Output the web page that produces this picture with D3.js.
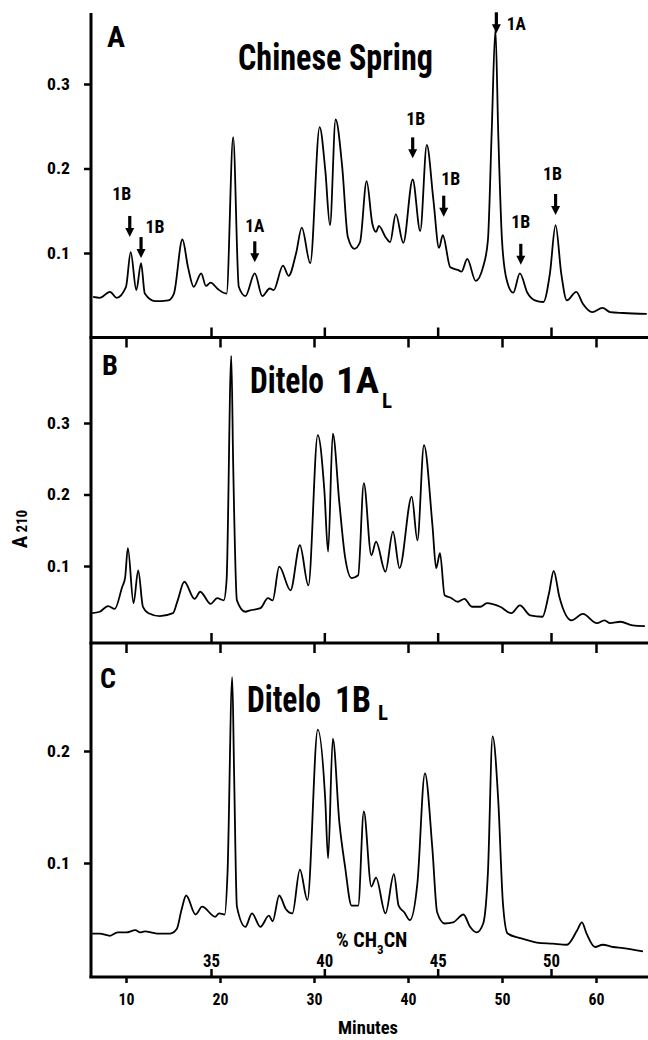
<!DOCTYPE html>
<html>
<head>
<meta charset="utf-8">
<script src="https://cdn.jsdelivr.net/npm/d3@7"></script>
<style>
body { margin: 0; background: #fff; }
text { font-family: "Liberation Sans Narrow", "Roboto Condensed", "DejaVu Sans Condensed", sans-serif; font-weight: bold; fill: #000; }
</style>
</head>
<body>
<svg id="chart" width="648" height="1040"></svg>
<script>
/* Chromatogram traces: minutes and A210 */
var minutesA = [6.5,7.2,8.3,9.0,10.0,10.5,11.1,11.6,12.0,13.1,14.5,15.1,16.0,16.6,17.2,18.0,18.5,19.0,19.8,20.7,21.4,22.0,22.7,23.7,24.5,25.3,25.7,26.7,27.3,28.1,28.7,29.6,30.6,31.2,31.7,32.3,33.0,33.6,34.3,34.9,35.6,36.2,36.6,36.9,37.6,38.1,38.7,39.5,40.5,41.3,42.0,42.7,43.3,43.7,44.5,45.3,45.7,46.3,47.2,48.0,48.5,48.9,49.3,49.6,50.0,50.5,51.2,51.9,52.7,53.5,54.4,55.1,55.7,56.3,56.9,57.9,58.6,59.6,60.7,61.5,62.9,65.4];
var valuesA  = [0.048,0.047,0.054,0.047,0.060,0.101,0.056,0.088,0.052,0.043,0.044,0.052,0.116,0.083,0.060,0.076,0.061,0.065,0.057,0.052,0.237,0.060,0.049,0.076,0.049,0.058,0.056,0.085,0.073,0.100,0.130,0.088,0.249,0.198,0.133,0.258,0.202,0.119,0.105,0.113,0.185,0.135,0.125,0.132,0.119,0.113,0.146,0.112,0.187,0.126,0.228,0.163,0.106,0.121,0.083,0.080,0.078,0.093,0.067,0.084,0.115,0.242,0.365,0.242,0.115,0.068,0.053,0.076,0.053,0.044,0.042,0.076,0.133,0.076,0.044,0.054,0.040,0.030,0.035,0.030,0.029,0.028];

var minutesB = [6.4,7.2,8.1,8.8,9.6,9.9,10.2,10.8,11.3,11.8,12.4,13.6,15.0,15.5,16.2,17.3,17.9,19.0,19.7,20.4,20.7,21.2,21.4,21.8,22.7,23.2,24.3,25.1,25.6,26.3,27.5,28.5,29.4,30.4,31.1,31.5,32.0,32.7,33.3,34.0,34.7,35.3,36.1,36.6,37.6,38.4,39.1,40.4,41.0,41.7,42.6,43.0,43.4,43.9,44.5,45.3,46.0,46.8,47.7,48.4,49.8,51.0,51.9,53.0,54.3,55.0,55.5,56.1,57.4,58.6,60.1,60.9,61.5,62.6,63.9,65.2];
var valuesB  = [0.034,0.036,0.044,0.040,0.071,0.083,0.125,0.048,0.094,0.043,0.034,0.030,0.034,0.052,0.078,0.054,0.064,0.047,0.055,0.052,0.080,0.394,0.244,0.052,0.036,0.038,0.041,0.055,0.052,0.099,0.066,0.129,0.073,0.283,0.206,0.120,0.285,0.188,0.113,0.083,0.087,0.216,0.115,0.134,0.092,0.148,0.097,0.197,0.136,0.269,0.157,0.097,0.118,0.059,0.056,0.050,0.054,0.043,0.043,0.048,0.043,0.034,0.045,0.031,0.029,0.062,0.093,0.057,0.024,0.033,0.020,0.024,0.020,0.022,0.017,0.016];

var minutesC = [6.4,7.2,8.3,9.1,10.0,11.0,11.5,12.0,13.3,14.7,15.4,15.9,16.4,17.4,18.1,19.5,19.9,20.5,20.8,21.3,21.5,21.8,22.7,23.4,24.3,25.2,25.6,26.3,27.0,27.7,28.5,29.3,30.4,31.2,31.5,32.0,32.7,33.3,34.0,34.7,35.3,36.1,36.6,37.6,38.5,39.0,39.6,40.2,41.0,41.8,42.6,43.1,43.9,44.8,45.9,46.6,47.3,48.0,48.5,49.0,49.6,50.1,50.6,51.9,53.7,55.4,56.9,58.0,58.5,59.0,59.9,60.7,61.8,62.9,65.0];
var valuesC  = [0.037,0.037,0.035,0.038,0.038,0.040,0.038,0.039,0.037,0.037,0.041,0.058,0.071,0.054,0.061,0.052,0.055,0.054,0.091,0.266,0.180,0.061,0.043,0.055,0.043,0.053,0.048,0.071,0.059,0.055,0.094,0.067,0.219,0.156,0.104,0.211,0.136,0.097,0.062,0.062,0.146,0.079,0.087,0.055,0.090,0.062,0.056,0.049,0.082,0.180,0.112,0.056,0.046,0.047,0.054,0.043,0.038,0.046,0.091,0.213,0.156,0.064,0.037,0.033,0.029,0.028,0.027,0.040,0.047,0.037,0.025,0.027,0.025,0.024,0.021];

/* Tick labels */
var minuteTicks = [10, 20, 30, 40, 50, 60];
var percentTicks = [35, 40, 45, 50];
var ticksA = [0.1, 0.2, 0.3];
var ticksB = [0.1, 0.2, 0.3];
var ticksC = [0.1, 0.2];

/* Arrows on panel A: peak time, arrow tip absorbance, label */
var arrowMinutes = [10.4, 11.6, 23.7, 40.5, 43.8, 49.4, 52.0, 55.7];
var arrowValues  = [0.119, 0.094, 0.089, 0.212, 0.143, 0.360, 0.086, 0.145];
var arrowLabels  = ["1B", "1B", "1A", "1B", "1B", "1A", "1B", "1B"];
// label offset from arrow tip, in pixels
var arrowLabelOffsets = [[-8, -37], [14, -25], [0, -30], [3, -33], [7, -32], [20, -3], [0, -37], [-3, -35]];

var svg = d3.select("#chart");
var left = 91, right = 648;

var x = d3.scaleLinear().domain([10, 60]).range([126, 596]);
var pct = d3.scaleLinear().domain([35, 50]).range([211, 551]);

var panels = [
    { minutes: minutesA, values: valuesA, ticks: ticksA, top: 13, bottom: 337.5, topLine: false,
      y: d3.scaleLinear().domain([0, 0.3]).range([337.5, 84]) },
    { minutes: minutesB, values: valuesB, ticks: ticksB, top: 337.5, bottom: 643, topLine: true,
      y: d3.scaleLinear().domain([0.1, 0.3]).range([566, 423]) },
    { minutes: minutesC, values: valuesC, ticks: ticksC, top: 643, bottom: 977, topLine: true,
      y: d3.scaleLinear().domain([0.1, 0.2]).range([863, 751]) }
];

panels.forEach(function(p, i) {
    var g = svg.append("g");

    // trace
    var pts = p.minutes.map(function(m, k) { return [m, p.values[k]]; });
    var line = d3.line()
        .x(function(d) { return x(d[0]); })
        .y(function(d) { return p.y(d[1]); })
        .curve(d3.curveMonotoneX);
    g.append("path")
        .datum(pts)
        .attr("d", line)
        .attr("fill", "none")
        .attr("stroke", "#000")
        .attr("stroke-width", 1.8)
        .attr("stroke-linejoin", "round");

    // y axis
    var ya = g.append("g")
        .attr("transform", "translate(" + left + ",0)")
        .call(d3.axisLeft(p.y).tickValues(p.ticks).tickSize(7).tickPadding(14).tickFormat(d3.format(".1f")));
    ya.select(".domain").remove();
    ya.selectAll("line").attr("stroke-width", 2.5);
    ya.selectAll("text").attr("font-size", 17).attr("font-family", null)
        .attr("textLength", 23).attr("lengthAdjust", "spacingAndGlyphs");

    g.append("line")
        .attr("x1", left).attr("x2", left)
        .attr("y1", p.top).attr("y2", p.bottom + 1)
        .attr("stroke", "#000").attr("stroke-width", 3);

    // bottom line with % CH3CN ticks pointing up
    g.append("line")
        .attr("x1", left - 1.5).attr("x2", right)
        .attr("y1", p.bottom).attr("y2", p.bottom)
        .attr("stroke", "#000").attr("stroke-width", 3);
    var pa = g.append("g")
        .attr("transform", "translate(0," + p.bottom + ")")
        .call(d3.axisTop(pct).tickValues(percentTicks).tickSize(i == 2 ? 8 : 10).tickPadding(2).tickFormat(i == 2 ? d3.format("d") : ""));
    pa.select(".domain").remove();
    pa.selectAll("line").attr("stroke-width", 2.5);
    pa.selectAll("text").attr("font-size", 18).attr("font-family", null)
        .attr("textLength", 17).attr("lengthAdjust", "spacingAndGlyphs");

    // top line with minute ticks pointing down
    if (p.topLine) {
        var ma = g.append("g")
            .attr("transform", "translate(0," + p.top + ")")
            .call(d3.axisBottom(x).tickValues(minuteTicks).tickSize(10).tickFormat(""));
        ma.select(".domain").remove();
        ma.selectAll("line").attr("stroke-width", 2.5);
    }
});

// minutes axis under panel C
var bottomAxis = svg.append("g")
    .attr("transform", "translate(0,977)")
    .call(d3.axisBottom(x).tickValues(minuteTicks).tickSize(6).tickPadding(10).tickFormat(d3.format("d")));
bottomAxis.select(".domain").remove();
bottomAxis.selectAll("line").attr("stroke-width", 2.5);
bottomAxis.selectAll("text").attr("font-size", 17).attr("font-family", null)
    .attr("textLength", 16).attr("lengthAdjust", "spacingAndGlyphs");

svg.append("text").attr("x", 368).attr("y", 1034).attr("text-anchor", "middle")
    .attr("font-size", 19).attr("textLength", 60).attr("lengthAdjust", "spacingAndGlyphs").text("Minutes");

// % CH3CN label
var ch = svg.append("text").attr("x", 336).attr("y", 947).attr("font-size", 20);
ch.append("tspan").text("% CH");
ch.append("tspan").attr("font-size", 13).attr("dy", 7).text("3");
ch.append("tspan").attr("dy", -7).text("CN");

// y label A210
var yl = svg.append("text").attr("transform", "translate(27,529) rotate(-90)").attr("text-anchor", "middle").attr("font-size", 21);
yl.append("tspan").text("A");
yl.append("tspan").attr("font-size", 15).attr("dx", 3).text("210");

// panel letters and titles
function bigText(str, xx, yy, size, len) {
    svg.append("text").attr("x", xx).attr("y", yy).attr("font-size", size)
        .attr("textLength", len).attr("lengthAdjust", "spacingAndGlyphs").text(str);
}
bigText("A", 107, 47, 30, 18);
bigText("Chinese Spring", 238, 70, 37, 195);
bigText("B", 102, 375, 28, 16);
bigText("Ditelo", 250, 393, 37, 74);
bigText("1A", 336, 393, 37, 43);
bigText("L", 382, 408, 20, 10);
bigText("C", 100, 688, 28, 16);
bigText("Ditelo", 247, 712, 37, 74);
bigText("1B", 335, 712, 37, 36);
bigText("L", 378, 720, 20, 10);

// arrows on panel A
var yA = panels[0].y;
arrowMinutes.forEach(function(m, k) {
    var ax = x(m), tip = yA(arrowValues[k]);
    svg.append("line")
        .attr("x1", ax).attr("x2", ax)
        .attr("y1", tip - 21).attr("y2", tip - 7)
        .attr("stroke", "#000").attr("stroke-width", 3.2);
    svg.append("path")
        .attr("d", "M" + (ax - 4.5) + "," + (tip - 9) + "L" + (ax + 4.5) + "," + (tip - 9) + "L" + ax + "," + tip + "Z")
        .attr("fill", "#000");
    svg.append("text")
        .attr("x", ax + arrowLabelOffsets[k][0])
        .attr("y", tip + arrowLabelOffsets[k][1])
        .attr("text-anchor", "middle")
        .attr("font-size", 19)
        .attr("textLength", 19).attr("lengthAdjust", "spacingAndGlyphs")
        .text(arrowLabels[k]);
});
</script>
</body>
</html>
